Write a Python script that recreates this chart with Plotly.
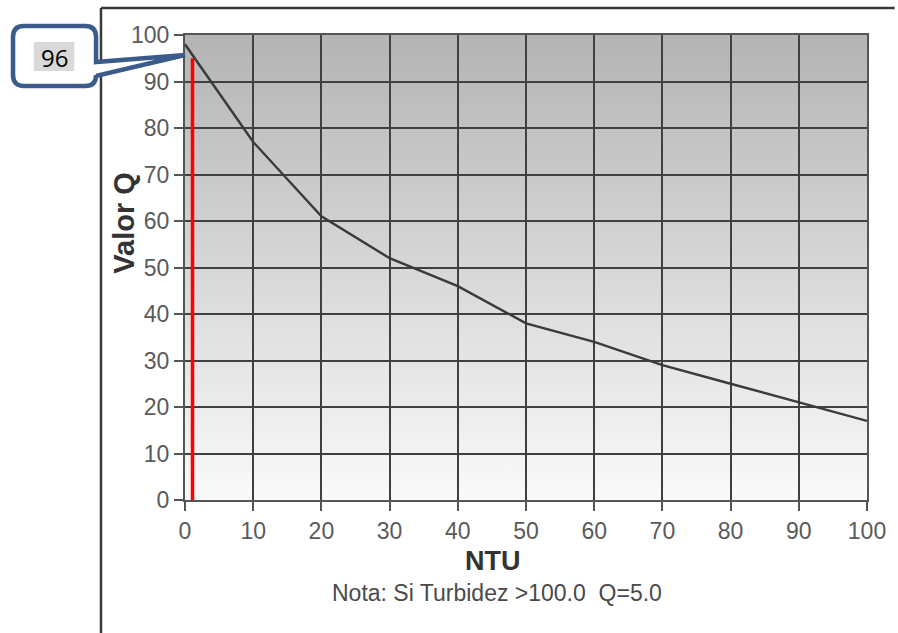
import base64
import plotly.graph_objects as go

# ---- data ----
ntu = [0, 10, 20, 30, 40, 50, 60, 70, 80, 90, 100]
valor_q = [98, 77, 61, 52, 46, 38, 34, 29, 25, 21, 17]
x_ticks = [0, 10, 20, 30, 40, 50, 60, 70, 80, 90, 100]
y_ticks = [0, 10, 20, 30, 40, 50, 60, 70, 80, 90, 100]
marker_ntu = [1.1, 1.1]
marker_q = [0, 95]
callout_text = "96"
note_text = "Nota: Si Turbidez >100.0  Q=5.0"

W, H = 898, 633
L, R, T, B = 185, 23, 35, 133
PW, PH = W - L - R, H - T - B


def px(xp):
    return (xp - L) / PW


def py(yp):
    return (H - B - yp) / PH


fig = go.Figure()

fig.add_trace(go.Scatter(x=ntu, y=valor_q, mode="lines",
                         line=dict(color="#3a3a3a", width=2.4),
                         hoverinfo="x+y", showlegend=False))
fig.add_trace(go.Scatter(x=marker_ntu, y=marker_q, mode="lines",
                         line=dict(color="#ff0000", width=3.5),
                         showlegend=False))

shapes = []
# vertical gradient background (fallback bands)
n = 60
top_c, bot_c = 0xB4, 0xFA
for i in range(n):
    y0 = 100 * i / n
    y1 = min(100 * (i + 1) / n + 0.6, 100)
    t = (i + 0.5) / n
    c = int(round(bot_c + (top_c - bot_c) * t))
    col = "rgb(%d,%d,%d)" % (c, c, c)
    shapes.append(dict(type="rect", xref="x", yref="y", x0=0, x1=100, y0=y0, y1=y1,
                       fillcolor=col, line=dict(width=0), layer="below"))

# smooth gradient image (svg) on top of the fallback bands
svg = ('<svg xmlns="http://www.w3.org/2000/svg" width="100" height="100" preserveAspectRatio="none">'
       '<defs><linearGradient id="g" x1="0" y1="0" x2="0" y2="1">'
       '<stop offset="0" stop-color="#b4b4b4"/><stop offset="1" stop-color="#fafafa"/>'
       '</linearGradient></defs><rect width="100" height="100" fill="url(#g)"/></svg>')
svg_uri = "data:image/svg+xml;base64," + base64.b64encode(svg.encode()).decode()
images = [dict(source=svg_uri, xref="x", yref="y", x=0, y=100, sizex=100, sizey=100,
               xanchor="left", yanchor="top", sizing="stretch", layer="below", opacity=1)]

# outer frame (left & top)
shapes.append(dict(type="line", xref="paper", yref="paper",
                   x0=px(100), x1=px(100), y0=py(8), y1=py(H + 5),
                   line=dict(color="#3a3a3a", width=2.5)))
shapes.append(dict(type="line", xref="paper", yref="paper",
                   x0=px(100), x1=px(W + 5), y0=py(8), y1=py(8),
                   line=dict(color="#3a3a3a", width=2.5)))

# callout
l_, t_, r_, b_, rad = 11, 26, 95, 86, 11
tipx, tipy = 185, 55
path = "M {} {}".format(px(l_ + rad), py(t_))
path += " L {} {}".format(px(r_ - rad), py(t_))
path += " Q {} {} {} {}".format(px(r_), py(t_), px(r_), py(t_ + rad))
path += " L {} {}".format(px(r_), py(62))
path += " L {} {}".format(px(tipx), py(tipy))
path += " L {} {}".format(px(r_), py(76))
path += " L {} {}".format(px(r_), py(b_ - rad))
path += " Q {} {} {} {}".format(px(r_), py(b_), px(r_ - rad), py(b_))
path += " L {} {}".format(px(l_ + rad), py(b_))
path += " Q {} {} {} {}".format(px(l_), py(b_), px(l_), py(b_ - rad))
path += " L {} {}".format(px(l_), py(t_ + rad))
path += " Q {} {} {} {} Z".format(px(l_), py(t_), px(l_ + rad), py(t_))
shapes.append(dict(type="path", xref="paper", yref="paper", path=path,
                   fillcolor="white", line=dict(color="#3b5b8b", width=4.5), layer="above"))
shapes.append(dict(type="rect", xref="paper", yref="paper",
                   x0=px(32), x1=px(73), y0=py(71), y1=py(42),
                   fillcolor="#d9d9d9", line=dict(width=0), layer="above"))

annotations = [
    dict(text=callout_text, xref="paper", yref="paper", x=px(52.5), y=py(57),
         xanchor="center", yanchor="middle", showarrow=False,
         font=dict(family="Open Sans, Liberation Sans, sans-serif", size=24, color="#000000")),
    dict(text="<b>Valor Q</b>", xref="paper", yref="paper", x=px(123), y=py(223),
         xanchor="center", yanchor="middle", showarrow=False, textangle=-90,
         font=dict(family="Liberation Sans, Arial, sans-serif", size=29, color="#333333")),
    dict(text="<b>NTU</b>", xref="paper", yref="paper", x=px(497), y=py(561),
         xanchor="center", yanchor="middle", showarrow=False,
         font=dict(family="Liberation Sans, Arial, sans-serif", size=27, color="#333333")),
    dict(text=note_text, xref="paper", yref="paper", x=px(501), y=py(593),
         xanchor="center", yanchor="middle", showarrow=False,
         font=dict(family="Liberation Sans, Arial, sans-serif", size=23, color="#4a4a4a")),
]

axis_common = dict(
    range=[0, 100], showgrid=True, gridcolor="#404040", gridwidth=2,
    zeroline=False, showline=True, mirror=True, linecolor="#555555", linewidth=2,
    ticks="outside", ticklen=9, tickwidth=2, tickcolor="#555555",
    tickfont=dict(family="Liberation Sans, Arial, sans-serif", size=23, color="#5a5a5a"),
    fixedrange=True,
)

fig.update_layout(
    width=W, height=H, autosize=False,
    margin=dict(l=L, r=R, t=T, b=B, pad=0),
    paper_bgcolor="white", plot_bgcolor="rgba(0,0,0,0)",
    xaxis=dict(tickvals=x_ticks, ticktext=[str(v) for v in x_ticks], **axis_common),
    yaxis=dict(tickvals=y_ticks, ticktext=[str(v) for v in y_ticks], **axis_common),
    shapes=shapes, images=images, annotations=annotations, showlegend=False,
)

fig.write_html("out.html",
               config={"displayModeBar": False, "responsive": False},
               post_script="document.body.style.margin='0';document.body.style.overflow='hidden';")
